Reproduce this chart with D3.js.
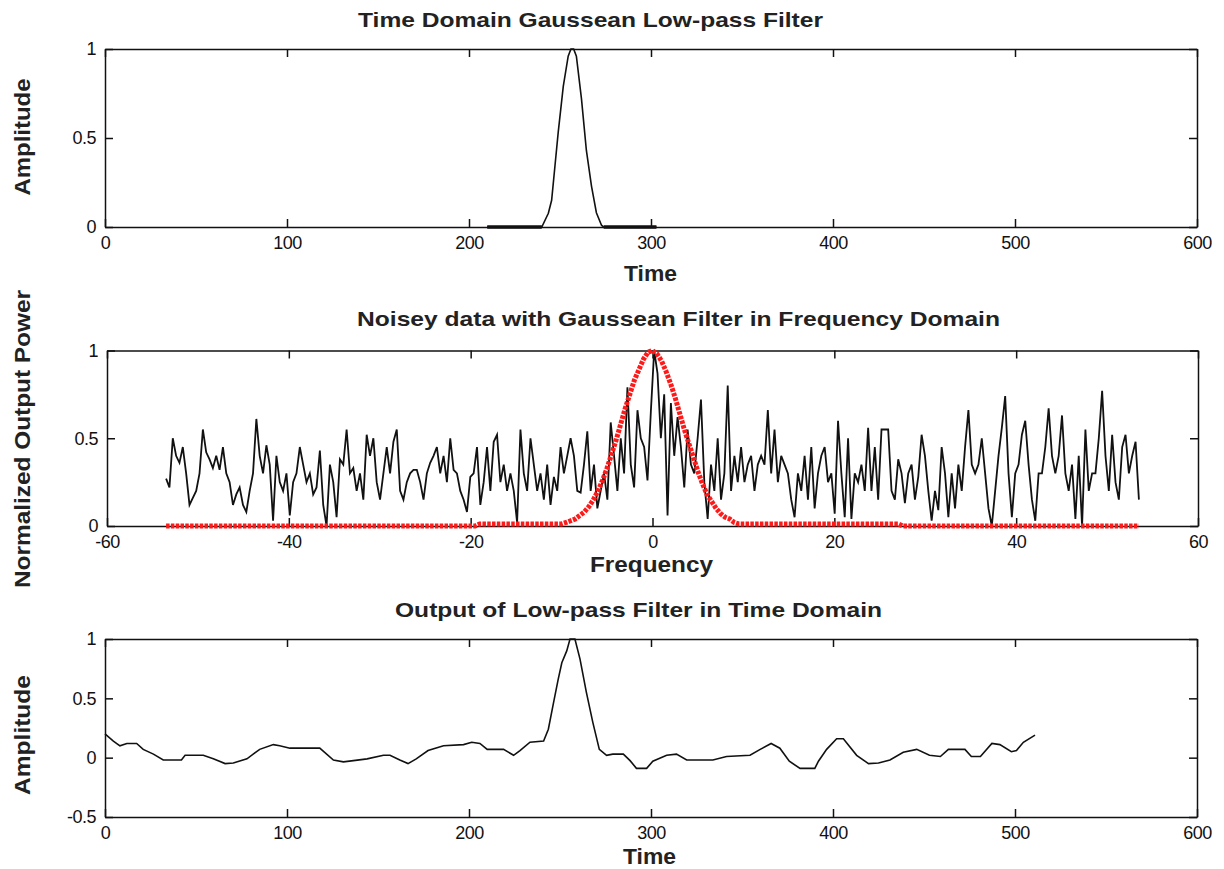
<!DOCTYPE html>
<html>
<head>
<meta charset="utf-8">
<script src="https://cdn.jsdelivr.net/npm/d3@7"></script>
<style>
body { margin: 0; background: #fff; }
svg { display: block; font-family: "Liberation Sans", Arial, sans-serif; }
.axis path, .axis line { stroke: #111; stroke-width: 1.5; }
.axis text { font-size: 18px; fill: #111; letter-spacing: -0.5px; }
.title { font-size: 21px; font-weight: bold; fill: #222; }
.label { font-size: 22px; font-weight: bold; fill: #222; }
</style>
</head>
<body>
<script>
// ---- data ----

// top panel: gaussian filter in time domain
var gaussTime = [210, 225, 240, 243.6, 245.4, 247.2, 249, 251.8, 254.5, 256, 257.5, 259, 261.8, 264.5, 267.3, 270, 272.8, 274, 290, 303];
var gaussAmp  = [0, 0, 0, 0.077, 0.15, 0.34, 0.53, 0.79, 0.96, 1, 1, 0.96, 0.72, 0.43, 0.23, 0.08, 0.01, 0, 0, 0];

// middle panel: noisy spectrum (evenly spaced from freqStart to freqEnd)
var freqStart = -53.5, freqEnd = 53.5;
var noisePower = [
  0.27,0.22,0.50,0.40,0.36,0.45,0.30,0.12,0.16,0.20,
  0.30,0.55,0.42,0.38,0.33,0.40,0.32,0.45,0.30,0.25,
  0.12,0.18,0.22,0.12,0.08,0.20,0.30,0.61,0.40,0.30,
  0.46,0.35,0.03,0.40,0.25,0.20,0.30,0.06,0.25,0.30,
  0.45,0.35,0.25,0.30,0.18,0.22,0.43,0.12,0.00,0.35,
  0.25,0.05,0.38,0.35,0.55,0.30,0.33,0.20,0.30,0.15,
  0.52,0.40,0.50,0.25,0.15,0.30,0.45,0.30,0.48,0.55,
  0.20,0.15,0.25,0.30,0.32,0.32,0.25,0.15,0.30,0.36,
  0.40,0.45,0.30,0.40,0.25,0.50,0.32,0.30,0.20,0.15,
  0.08,0.28,0.30,0.45,0.12,0.25,0.45,0.20,
  0.48,0.52,0.25,0.35,0.20,0.30,0.20,0.02,0.55,0.30,
  0.20,0.50,0.35,0.20,0.30,0.15,0.35,0.12,0.28,0.20,
  0.45,0.30,0.40,0.50,0.40,0.20,0.19,0.35,0.54,0.20,
  0.35,0.10,0.20,0.30,0.15,0.59,0.40,0.20,0.50,0.30,
  0.79,0.35,0.22,0.66,0.50,0.45,0.26,0.65,1.00,0.87,
  0.50,0.75,0.06,0.70,0.40,0.62,0.45,0.22,0.55,0.35,
  0.30,0.50,0.72,0.25,0.04,0.35,0.20,0.50,0.15,0.30,
  0.80,0.20,0.40,0.25,0.45,0.25,0.35,0.40,0.20,0.35,
  0.40,0.35,0.66,0.30,0.55,0.25,0.40,0.35,0.30,0.15,
  0.05,0.30,0.20,0.40,0.15,0.45,0.10,0.30,0.40,
  0.45,0.25,0.30,0.07,0.60,0.30,0.05,0.50,0.04,0.30,
  0.25,0.35,0.20,0.56,0.20,0.45,0.15,0.55,0.55,0.55,
  0.20,0.15,0.38,0.30,0.13,0.30,0.35,0.15,0.28,0.52,
  0.40,0.20,0.03,0.20,0.09,0.45,0.30,0.05,0.30,0.10,
  0.35,0.20,0.45,0.66,0.35,0.30,0.35,0.50,0.30,0.10,
  0.00,0.20,0.40,0.56,0.74,0.30,0.05,0.30,0.35,0.52,
  0.60,0.35,0.15,0.03,0.30,0.30,0.45,0.67,0.40,0.30,
  0.40,0.63,0.30,0.20,0.35,0.04,0.40,0.00,0.55,0.20,
  0.30,0.30,0.50,0.77,0.40,0.20,0.52,0.25,0.15,0.45,
  0.52,0.30,0.40,0.48,0.15
];

// middle panel: gaussian filter (red)
var filterFreq = [-53.5, -19.5, -19, -10, -9.5, -9, -8.5, -8, -7.5, -7, -6.5, -6, -5.5, -5, -4.5, -4, -3.5, -3, -2.5, -2, -1.5, -1, -0.5, 0,
  0.5, 1, 1.5, 2, 2.5, 3, 3.5, 4, 4.5, 5, 5.5, 6, 6.5, 7, 7.5, 8, 8.5, 9, 9.5, 10, 27, 27.5, 53.5];
var filterGain = [0, 0, 0.012, 0.012, 0.02, 0.03, 0.04, 0.06, 0.08, 0.11, 0.15, 0.20, 0.26, 0.33, 0.41, 0.49, 0.58, 0.67, 0.75, 0.83, 0.89, 0.95, 0.99, 1.00,
  0.98, 0.94, 0.88, 0.81, 0.73, 0.64, 0.55, 0.47, 0.39, 0.31, 0.24, 0.18, 0.14, 0.10, 0.07, 0.05, 0.04, 0.02, 0.012, 0.012, 0.012, 0, 0];

// bottom panel: filtered output in time domain
var outTime = [0, 4.6, 8.2, 12, 17.4, 21, 26.6, 32, 42, 44, 54, 59.5, 66, 70.5, 78, 85, 92.5, 96, 101.6, 118,
  125.5, 131, 136.5, 144, 153, 156.6, 162, 166.5, 171, 177.5, 186, 197, 201.5, 206, 210, 219, 224.5, 228, 233.5, 241,
  243.6, 246.4, 249, 251, 253.7, 255.5, 258.2, 261, 264.5, 268, 271.6, 275.6, 279, 284.8, 288.5, 292, 297.6, 301, 308.6, 314,
  319.6, 334, 341.5, 354.4, 360, 366, 370.8, 376, 381.9, 390, 392, 396.5, 402, 405.7, 413, 419.5, 425, 431.3, 438.6, 446,
  453, 459, 463.4, 472.5, 476, 481, 487.3, 491.7, 498, 500.8, 504.6, 511];
var outAmp = [0.2, 0.14, 0.1, 0.12, 0.12, 0.07, 0.03, -0.02, -0.02, 0.02, 0.02, -0.01, -0.05, -0.045, -0.01, 0.07, 0.11, 0.1, 0.08, 0.08,
  -0.02, -0.035, -0.025, -0.01, 0.02, 0.02, -0.02, -0.05, -0.01, 0.06, 0.1, 0.11, 0.13, 0.12, 0.07, 0.07, 0.02, 0.06, 0.13, 0.14,
  0.24, 0.46, 0.66, 0.8, 0.9, 1.0, 1.0, 0.83, 0.55, 0.3, 0.07, 0.02, 0.03, 0.03, -0.025, -0.09, -0.09, -0.03, 0.02, 0.03,
  -0.02, -0.02, 0.01, 0.02, 0.07, 0.12, 0.08, -0.03, -0.09, -0.09, -0.03, 0.07, 0.16, 0.16, 0.02, -0.05, -0.045, -0.02, 0.045, 0.07,
  0.02, 0.01, 0.07, 0.07, 0.01, 0.01, 0.12, 0.11, 0.05, 0.06, 0.13, 0.19];

var timeTicks = [0, 100, 200, 300, 400, 500, 600];
var freqTicks = [-60, -40, -20, 0, 20, 40, 60];
var ampTicks = [0, 0.5, 1];
var outTicks = [-0.5, 0, 0.5, 1];

// ---- drawing ----
var svg = d3.select("body").append("svg")
    .attr("width", 1224)
    .attr("height", 869);

function fmt(d) { return String(d); }

// axes box with inward ticks on all four sides, like matlab
function makePanel(box, xDomain, yDomain, xTicks, yTicks) {
    var w = box.right - box.left, h = box.bottom - box.top;
    var g = svg.append("g").attr("transform", "translate(" + box.left + "," + box.top + ")");
    var x = d3.scaleLinear().domain(xDomain).range([0, w]);
    var y = d3.scaleLinear().domain(yDomain).range([h, 0]);

    g.append("g").attr("class", "axis")
        .attr("transform", "translate(0," + h + ")")
        .call(d3.axisBottom(x).tickValues(xTicks).tickFormat(fmt).tickSizeInner(-8).tickSizeOuter(0).tickPadding(9));
    g.append("g").attr("class", "axis")
        .call(d3.axisTop(x).tickValues(xTicks).tickFormat("").tickSizeInner(-8).tickSizeOuter(0));
    g.append("g").attr("class", "axis")
        .call(d3.axisLeft(y).tickValues(yTicks).tickFormat(fmt).tickSizeInner(-8).tickSizeOuter(0).tickPadding(9));
    g.append("g").attr("class", "axis")
        .attr("transform", "translate(" + w + ",0)")
        .call(d3.axisRight(y).tickValues(yTicks).tickFormat("").tickSizeInner(-8).tickSizeOuter(0));

    return { g: g, x: x, y: y };
}

function addText(cls, txt, x, y, len, rotate) {
    var t = svg.append("text")
        .attr("class", cls)
        .attr("textLength", len)
        .attr("lengthAdjust", "spacingAndGlyphs")
        .text(txt);
    if (rotate) {
        t.attr("text-anchor", "middle")
         .attr("transform", "translate(" + x + "," + y + ") rotate(-90)");
    } else {
        t.attr("x", x).attr("y", y);
    }
    return t;
}

// panel 1
var p1 = makePanel({ left: 105, right: 1197, top: 49, bottom: 227 }, [0, 600], [0, 1], timeTicks, ampTicks);
var gaussData = gaussTime.map(function(t, i) { return { t: t, v: gaussAmp[i] }; });
p1.g.append("path")
    .datum(gaussData)
    .attr("fill", "none").attr("stroke", "#111").attr("stroke-width", 1.6)
    .attr("d", d3.line().x(function(d) { return p1.x(d.t); }).y(function(d) { return p1.y(d.v); }));
// flat zero part shows up heavier in the original
p1.g.append("path")
    .datum(gaussData)
    .attr("fill", "none").attr("stroke", "#111").attr("stroke-width", 3.5)
    .attr("d", d3.line().defined(function(d) { return d.v === 0; })
        .x(function(d) { return p1.x(d.t); }).y(function(d) { return p1.y(d.v); }));

addText("title", "Time Domain Gaussean Low-pass Filter", 358, 27, 465);
addText("label", "Time", 624, 281, 53);
addText("label", "Amplitude", 30, 137, 117, true);

// panel 2
var p2 = makePanel({ left: 107, right: 1198, top: 350.5, bottom: 526 }, [-60, 60], [0, 1], freqTicks, ampTicks);
var step = (freqEnd - freqStart) / (noisePower.length - 1);
p2.g.append("path")
    .datum(noisePower)
    .attr("fill", "none").attr("stroke", "#111").attr("stroke-width", 1.8)
    .attr("d", d3.line()
        .x(function(d, i) { return p2.x(freqStart + i * step); })
        .y(function(d) { return p2.y(d); }));
p2.g.append("path")
    .datum(filterFreq.map(function(f, i) { return { f: f, v: filterGain[i] }; }))
    .attr("fill", "none").attr("stroke", "#ff1a1a").attr("stroke-width", 5)
    .attr("stroke-dasharray", "3.5,1.3")
    .attr("d", d3.line().x(function(d) { return p2.x(d.f); }).y(function(d) { return p2.y(d.v); }));

addText("title", "Noisey data with Gaussean Filter in Frequency Domain", 357, 326, 643);
addText("label", "Frequency", 590, 572, 123);
addText("label", "Normalized Output Power", 30, 439, 298, true);

// panel 3
var p3 = makePanel({ left: 105, right: 1197, top: 639, bottom: 817 }, [0, 600], [-0.5, 1], timeTicks, outTicks);
p3.g.append("path")
    .datum(outTime.map(function(t, i) { return { t: t, v: outAmp[i] }; }))
    .attr("fill", "none").attr("stroke", "#111").attr("stroke-width", 1.6)
    .attr("d", d3.line().x(function(d) { return p3.x(d.t); }).y(function(d) { return p3.y(d.v); }));

addText("title", "Output of Low-pass Filter in Time Domain", 395, 617, 487);
addText("label", "Time", 623, 864, 53);
addText("label", "Amplitude", 30, 735, 120, true);
</script>
</body>
</html>
